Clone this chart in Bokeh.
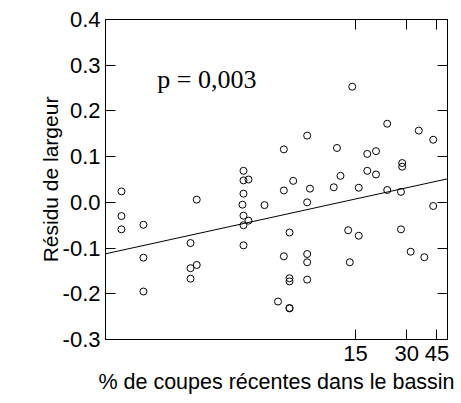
import numpy as np
from bokeh.plotting import figure
from bokeh.models import (Range1d, FixedTicker, PrintfTickFormatter, LinearAxis,
                          LogAxis, Label, ColumnDataSource)
from bokeh.embed import file_html
from bokeh.resources import INLINE

# % de coupes récentes dans le bassin (x, log scale)
pct_coupes = [
    0.641, 0.641, 0.641, 0.862, 0.862, 0.862,
    1.768, 1.626, 1.626, 1.768, 1.626,
    3.32, 3.32, 3.55, 3.32, 3.274, 4.406, 3.32, 3.55, 3.32, 3.32,
    5.72, 5.72, 6.488, 7.83, 8.134, 7.83, 6.172, 5.72, 7.83, 7.83,
    6.172, 6.172, 7.83, 5.286, 6.172, 6.172,
    11.21, 11.70, 12.27, 14.37, 15.70, 17.60, 19.80, 17.60, 19.80,
    23.03, 23.03, 27.73, 28.18, 28.18, 35.25, 42.8, 42.8,
    13.61, 15.70, 27.73, 31.60, 37.97, 13.91,
]
# Résidu de largeur (y)
residu = [
    0.024, -0.030, -0.059, -0.049, -0.121, -0.195,
    0.006, -0.089, -0.144, -0.137, -0.167,
    0.069, 0.048, 0.050, 0.019, -0.005, -0.006, -0.029, -0.040, -0.050, -0.094,
    0.116, 0.026, 0.047, 0.146, 0.030, 0.000, -0.066, -0.118, -0.113, -0.131,
    -0.166, -0.173, -0.169, -0.217, -0.231, -0.232,
    0.033, 0.119, 0.058, 0.253, 0.032, 0.106, 0.112, 0.069, 0.061,
    0.172, 0.027, 0.023, 0.086, 0.078, 0.157, 0.137, -0.008,
    -0.061, -0.073, -0.059, -0.108, -0.120, -0.131,
]
# regression line  y = a + b * ln(x)
trend_intercept = -0.0891
trend_slope = 0.0356

x_ticks = [15, 30, 45]
y_ticks = [-0.3, -0.2, -0.1, 0.0, 0.1, 0.2, 0.3, 0.4]
x_start, x_end = 0.517, 51.9
y_start, y_end = -0.3, 0.4
p_text = "p = 0,003"
x_title = "% de coupes récentes dans le bassin"
y_title = "Résidu de largeur"

FONT = "Liberation Sans"

p = figure(width=461, height=403, output_backend="svg", toolbar_location=None,
           x_axis_type="log",
           x_range=Range1d(x_start, x_end), y_range=Range1d(y_start, y_end),
           min_border_left=105, min_border_right=14, min_border_top=19,
           min_border_bottom=64)
p.xgrid.visible = False
p.ygrid.visible = False
p.outline_line_color = "black"
p.outline_line_width = 1
p.background_fill_color = "white"
p.border_fill_color = "white"

src = ColumnDataSource(dict(x=pct_coupes, y=residu))
p.scatter("x", "y", source=src, marker="circle", size=7, fill_color=None,
          line_color="black", line_width=1)

tx = np.array([x_start, x_end])
ty = trend_intercept + trend_slope * np.log(tx)
p.line(tx, ty, line_color="black", line_width=1)

p.add_layout(Label(x=1.04, y=0.268, text=p_text, text_font="Liberation Serif",
                   text_font_size="26px", text_baseline="alphabetic",
                   text_align="left", text_color="black"))


def style(ax, labels=True):
    ax.major_tick_in = 10
    ax.major_tick_out = 0
    ax.minor_tick_line_color = None
    ax.axis_line_color = "black"
    ax.major_tick_line_color = "black"
    ax.major_label_text_font = FONT
    ax.major_label_text_font_size = "22px"
    ax.major_label_text_color = "black"
    ax.axis_label_text_font = FONT
    ax.axis_label_text_font_size = "21px"
    ax.axis_label_text_font_style = "normal"
    ax.axis_label_text_color = "black"
    if not labels:
        ax.major_label_overrides = {t: "" for t in ax.ticker.ticks}


xa = p.xaxis[0]
xa.ticker = FixedTicker(ticks=x_ticks)
xa.axis_label = x_title
style(xa)
xa.axis_label_text_font_size = "21.5px"
xa.major_label_standoff = 6
xa.axis_label_standoff = 6

ya = p.yaxis[0]
ya.ticker = FixedTicker(ticks=y_ticks)
ya.formatter = PrintfTickFormatter(format="%.1f")
ya.axis_label = y_title
style(ya)
ya.major_label_standoff = 5
ya.axis_label_standoff = -2

ra = LinearAxis(ticker=FixedTicker(ticks=y_ticks))
style(ra, labels=False)
p.add_layout(ra, "right")
ta = LogAxis(ticker=FixedTicker(ticks=x_ticks))
style(ta, labels=False)
p.add_layout(ta, "above")

open("out.html", "w").write(file_html(p, INLINE))
